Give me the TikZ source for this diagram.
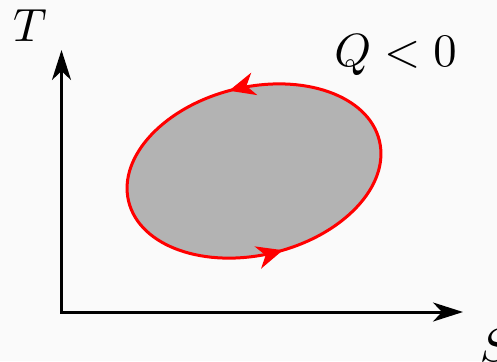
\documentclass[tikz,border=0pt]{standalone}
\usetikzlibrary{arrows.meta,decorations.markings}
\definecolor{bgc}{RGB}{250,250,250}
\definecolor{fillc}{RGB}{179,179,179}
\begin{document}
\begin{tikzpicture}[x=0.5pt,y=0.5pt,
  axis/.style={line width=1.5pt,black,{Stealth[length=15pt,width=9.5pt,inset=4.5pt]}-{Stealth[length=15pt,width=9.5pt,inset=4.5pt]}},
  cycle/.style={line width=1.5pt,draw=red,fill=fillc,
    postaction={decorate},
    decoration={markings,
      mark=at position 0.258 with {\arrow[red]{Stealth[length=13pt,width=11.5pt,inset=4pt]}},
      mark=at position 0.764 with {\arrow[red]{Stealth[length=13pt,width=11.5pt,inset=4pt]}}}},
  lbl/.style={inner sep=0pt,scale=2.33}]
\fill[bgc] (0,0) rectangle (497,361);
\useasboundingbox (0,0) rectangle (497,361);
\coordinate (O) at (61.5,49);
\coordinate (Ttip) at (61.5,311);
\coordinate (Stip) at (463,49);
\coordinate (C) at (254,190);
\draw[axis,line join=miter] (Ttip) -- (O) -- (Stip);
\path[cycle,shift={(C)},rotate=13.6] (0,0) ellipse [x radius=64.5pt, y radius=42pt];
\node[lbl,anchor=base] (T) at (30,320) {$T$};
\node[lbl,anchor=base west] (S) at (479,0) {$S$};
\node[lbl,anchor=base] (Q) at (395.5,295) {$Q<0$};
\end{tikzpicture}
\end{document}
